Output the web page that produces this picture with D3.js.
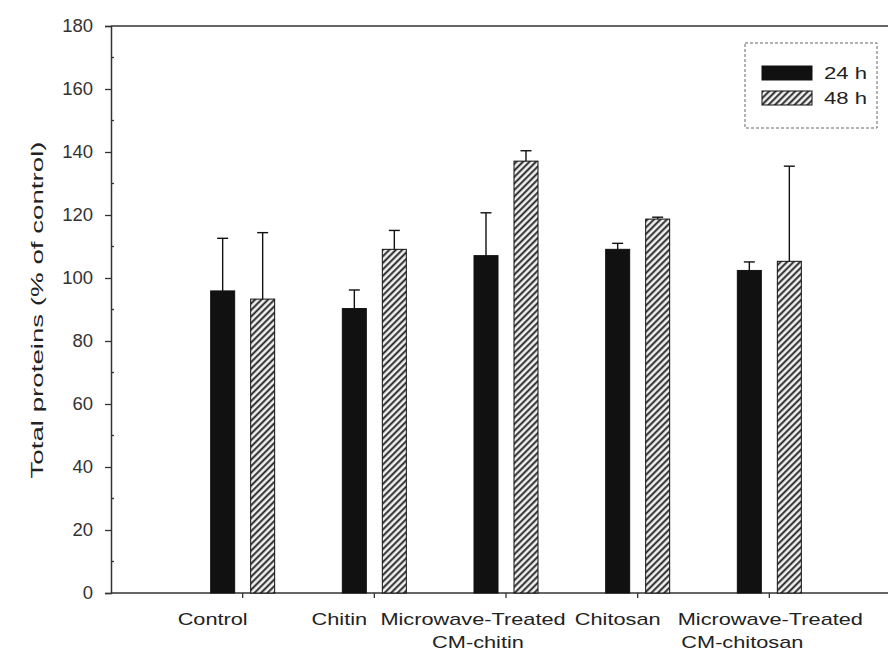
<!DOCTYPE html>
<html>
<head>
<meta charset="utf-8">
<script src="https://cdn.jsdelivr.net/npm/d3@7/dist/d3.min.js"></script>
<style>
  body { margin: 0; background: #fff; }
  svg { display: block; font-family: "Liberation Sans", Arial, sans-serif; }
</style>
</head>
<body>
<div id="chart"></div>
<script>
// data
const categories = ["Control", "Chitin", "Microwave-Treated\nCM-chitin", "Chitosan", "Microwave-Treated\nCM-chitosan"];
const series = ["24 h", "48 h"];
const values24 = [95.9, 90.3, 107.1, 109.1, 102.4];
const errTop24 = [112.6, 96.2, 120.7, 111.0, 105.1];
const values48 = [93.3, 109.1, 137.1, 118.7, 105.3];
const errTop48 = [114.4, 115.1, 140.4, 119.3, 135.5];
const yTicks = [0, 20, 40, 60, 80, 100, 120, 140, 160, 180];

// label placement tweaks (the original labels are not centred on ticks)
const labelDx = [[-30], [-35], [-33, -28], [-20], [1, -27]];

const W = 888, H = 653;
const svg = d3.select("#chart").append("svg").attr("width", W).attr("height", H);

const plotLeft = 111, plotTop = 26, plotBottom = 593;
let x = d3.scaleLinear().domain([0, 6]).range([plotLeft, 901]);
let y = d3.scaleLinear().domain([0, 180]).range([plotBottom, plotTop]);
const barW = 24, gap = 16;

// hatch pattern
const defs = svg.append("defs");
const pat = defs.append("pattern")
    .attr("id", "hatch")
    .attr("patternUnits", "userSpaceOnUse")
    .attr("width", 4.6).attr("height", 4.6)
    .attr("patternTransform", "rotate(45)");
pat.append("rect").attr("width", 4.6).attr("height", 4.6).attr("fill", "#f2f2f2");
pat.append("line").attr("x1", 1.2).attr("y1", 0).attr("x2", 1.2).attr("y2", 4.6)
    .attr("stroke", "#222").attr("stroke-width", 1.9);

// frame top line
svg.append("line")
    .attr("x1", plotLeft).attr("x2", W).attr("y1", plotTop).attr("y2", plotTop)
    .attr("stroke", "#333").attr("stroke-width", 1.5);

// Y axis
let yAxis = svg.append("g")
    .attr("transform", "translate(" + plotLeft + ",0)")
    .call(d3.axisLeft(y).tickValues(yTicks).tickSize(6).tickPadding(12));
yAxis.select(".domain").attr("stroke", "#333").attr("stroke-width", 1.5);
yAxis.selectAll(".tick line").attr("stroke", "#333").attr("stroke-width", 1.3);
yAxis.selectAll(".tick text").attr("font-size", 18.5).attr("fill", "#333");

// minor ticks
svg.append("g").selectAll("line")
    .data(d3.range(10, 180, 20))
    .enter().append("line")
        .attr("x1", plotLeft).attr("x2", plotLeft + 3)
        .attr("y1", d => y(d)).attr("y2", d => y(d))
        .attr("stroke", "#333").attr("stroke-width", 1.3);

// X axis
svg.append("line")
    .attr("x1", plotLeft).attr("x2", W).attr("y1", plotBottom).attr("y2", plotBottom)
    .attr("stroke", "#333").attr("stroke-width", 1.5);
svg.append("g").selectAll("line")
    .data(categories)
    .enter().append("line")
        .attr("x1", (d, i) => x(i + 1)).attr("x2", (d, i) => x(i + 1))
        .attr("y1", plotBottom).attr("y2", plotBottom + 5)
        .attr("stroke", "#333").attr("stroke-width", 1.3);

// bars
const groups = [
    { vals: values24, err: errTop24, fill: "#111", dx: -(gap / 2 + barW) },
    { vals: values48, err: errTop48, fill: "url(#hatch)", dx: gap / 2 }
];
groups.forEach(g => {
    svg.append("g").selectAll("rect")
        .data(g.vals)
        .enter().append("rect")
            .attr("x", (d, i) => x(i + 1) + g.dx)
            .attr("y", d => y(d))
            .attr("width", barW)
            .attr("height", d => plotBottom - y(d))
            .attr("fill", g.fill)
            .attr("stroke", "#111").attr("stroke-width", 1);

    let eb = svg.append("g").attr("stroke", "#111").attr("stroke-width", 1.4);
    g.vals.forEach((v, i) => {
        let cx = x(i + 1) + g.dx + barW / 2;
        eb.append("line").attr("x1", cx).attr("x2", cx).attr("y1", y(v)).attr("y2", y(g.err[i]));
        eb.append("line").attr("x1", cx - 5.5).attr("x2", cx + 5.5).attr("y1", y(g.err[i])).attr("y2", y(g.err[i]));
    });
});

// category labels
categories.forEach((c, i) => {
    c.split("\n").forEach((line, j) => {
        svg.append("g")
            .attr("transform", "translate(" + (x(i + 1) + labelDx[i][j]) + "," + (625 + j * 23) + ")")
          .append("text")
            .attr("transform", "scale(1.36,1)")
            .attr("text-anchor", "middle")
            .attr("font-size", 16)
            .attr("fill", "#222")
            .text(line);
    });
});

// Y label
svg.append("text")
    .attr("transform", "translate(37,310)rotate(-90)scale(1.63,1)")
    .attr("text-anchor", "middle")
    .attr("dy", "0.35em")
    .attr("font-size", 17)
    .attr("fill", "#222")
    .text("Total proteins (% of control)");

// legend
let legend = svg.append("g");
legend.append("rect")
    .attr("x", 745).attr("y", 43).attr("width", 132).attr("height", 85)
    .attr("fill", "#fff").attr("stroke", "#666").attr("stroke-width", 1)
    .attr("stroke-dasharray", "3,2");
series.forEach((s, i) => {
    legend.append("rect")
        .attr("x", 762).attr("y", 66 + i * 25).attr("width", 50).attr("height", 14)
        .attr("fill", i === 0 ? "#111" : "url(#hatch)")
        .attr("stroke", "#111").attr("stroke-width", 1);
    legend.append("g")
        .attr("transform", "translate(824," + (73 + i * 25) + ")")
      .append("text")
        .attr("transform", "scale(1.3,1)")
        .attr("dy", "0.35em")
        .attr("font-size", 17)
        .attr("fill", "#222")
        .text(s);
});
</script>
</body>
</html>
